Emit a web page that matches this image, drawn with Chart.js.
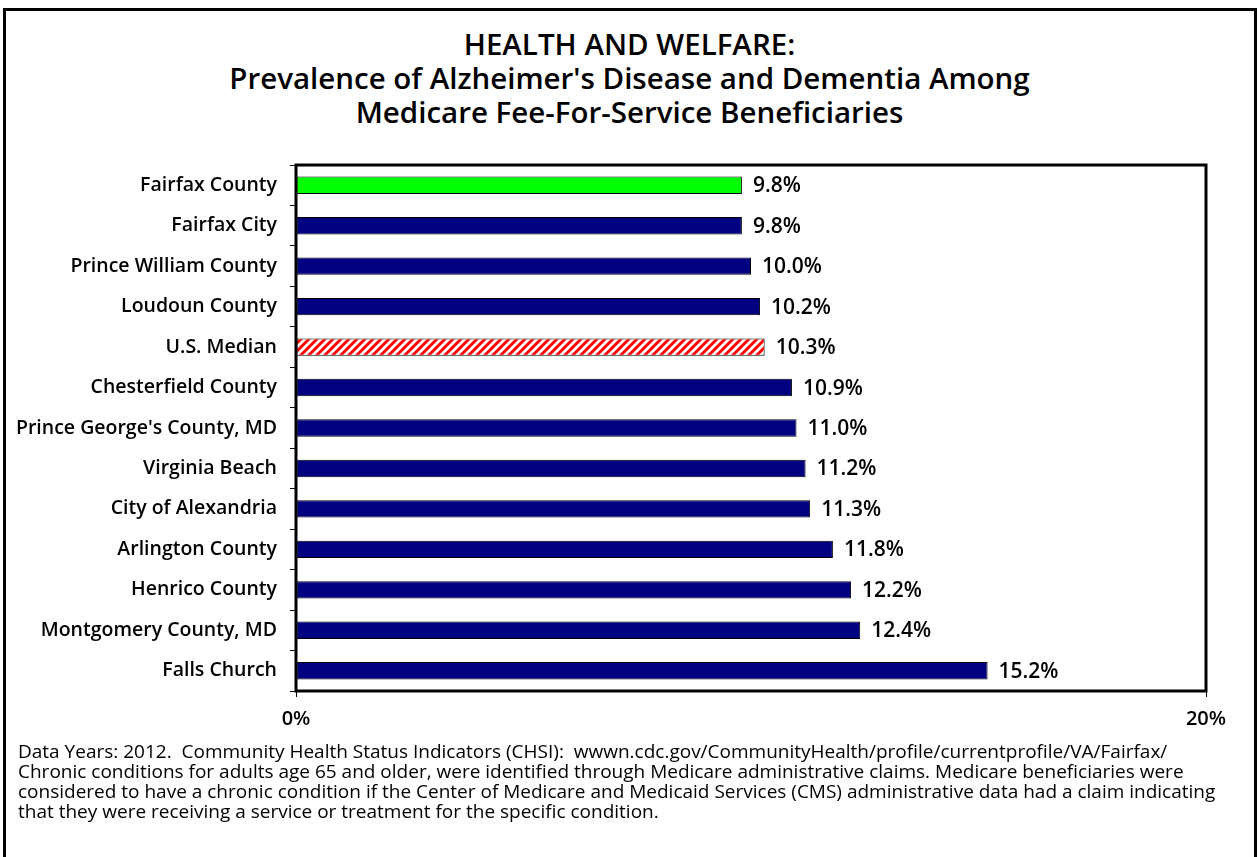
<!DOCTYPE html>
<html>
<head>
<meta charset="utf-8">
<script src="https://cdn.jsdelivr.net/npm/chart.js@4.4.0/dist/chart.umd.min.js"></script>
<style>
  html, body { margin: 0; padding: 0; background: #fff; }
  body { width: 1259px; height: 857px; position: relative; overflow: hidden; }
  .frame {
    position: absolute; left: 3px; top: 8px; width: 1248px; height: 860px;
    border: 3px solid #000;
  }
  .title {
    position: absolute; left: 0; top: 27px; width: 1259px; text-align: center;
    font-family: "Open Sans", sans-serif; font-weight: 600;
    font-size: 29.5px; line-height: 34px; color: #000;
  }
  .note {
    position: absolute; left: 18px; top: 741px; width: 1235px;
    font-family: "Open Sans", sans-serif;
    font-size: 19px; line-height: 20px; color: #000; white-space: nowrap;
  }
  #chart { position: absolute; left: 0; top: 0; }
</style>
</head>
<body>
<div class="frame"></div>
<div class="title">HEALTH AND WELFARE:<br>Prevalence of Alzheimer's Disease and Dementia Among<br>Medicare Fee-For-Service Beneficiaries</div>
<canvas id="chart" width="1259" height="857"></canvas>
<div class="note">Data Years: 2012.&nbsp; Community Health Status Indicators (CHSI):&nbsp; wwwn.cdc.gov/CommunityHealth/profile/currentprofile/VA/Fairfax/<br>Chronic conditions for adults age 65 and older, were identified through Medicare administrative claims. Medicare beneficiaries were<br>considered to have a chronic condition if the Center of Medicare and Medicaid Services (CMS) administrative data had a claim indicating<br>that they were receiving a service or treatment for the specific condition.</div>
<script>
  // 数据
  const places = [
    'Fairfax County', 'Fairfax City', 'Prince William County', 'Loudoun County',
    'U.S. Median', 'Chesterfield County', "Prince George's County, MD", 'Virginia Beach',
    'City of Alexandria', 'Arlington County', 'Henrico County', 'Montgomery County, MD',
    'Falls Church'
  ];
  const prevalence = [9.8, 9.8, 10.0, 10.2, 10.3, 10.9, 11.0, 11.2, 11.3, 11.8, 12.2, 12.4, 15.2];
  const xTicks = [0, 20];

  const labelFont = '"Open Sans", sans-serif';

  // 斜线填充 (U.S. Median)
  function makeHatch() {
    var c = document.createElement('canvas');
    c.width = 8; c.height = 8;
    var g = c.getContext('2d');
    g.fillStyle = '#fff';
    g.fillRect(0, 0, 8, 8);
    g.strokeStyle = '#ff0000';
    g.lineWidth = 3;
    g.beginPath();
    g.moveTo(-2, 10); g.lineTo(10, -2);
    g.moveTo(-6, 6); g.lineTo(6, -6);
    g.moveTo(2, 14); g.lineTo(14, 2);
    g.stroke();
    return g.createPattern(c, 'repeat');
  }
  const hatch = makeHatch();

  const barColors = places.map(function(p) {
    if (p === 'Fairfax County') return '#00ff00';
    if (p === 'U.S. Median') return hatch;
    return '#000080';
  });

  // 外框 + 数值标签
  const boxAndLabels = {
    id: 'boxAndLabels',
    afterDatasetsDraw: function(chart) {
      var ctx = chart.ctx;
      var a = chart.chartArea;
      ctx.save();
      ctx.strokeStyle = '#000';
      ctx.lineWidth = 3;
      ctx.strokeRect(a.left, a.top, a.right - a.left, a.bottom - a.top);
      ctx.fillStyle = '#000';
      ctx.font = '600 21px ' + labelFont;
      ctx.textBaseline = 'middle';
      ctx.textAlign = 'left';
      chart.getDatasetMeta(0).data.forEach(function(bar, i) {
        ctx.fillText(prevalence[i].toFixed(1) + '%', bar.x + 11, bar.y + 1);
      });
      ctx.restore();
    }
  };

  function draw() {
    new Chart(document.getElementById('chart'), {
      type: 'bar',
      data: {
        labels: places,
        datasets: [{
          data: prevalence,
          backgroundColor: barColors,
          borderColor: '#000',
          borderWidth: 1,
          borderSkipped: false,
          barPercentage: 0.43,
          categoryPercentage: 1.0
        }]
      },
      options: {
        indexAxis: 'y',
        responsive: false,
        animation: false,
        layout: { padding: { top: 165, right: 53, left: 0, bottom: 0 } },
        plugins: {
          legend: { display: false },
          tooltip: { enabled: false }
        },
        scales: {
          x: {
            min: 0,
            max: 20,
            afterBuildTicks: function(scale) {
              scale.ticks = xTicks.map(function(v) { return { value: v }; });
            },
            afterFit: function(scale) { scale.height = 857 - 691; },
            grid: { drawOnChartArea: false, drawTicks: true, tickLength: 6, color: '#000' },
            border: { display: false },
            ticks: {
              color: '#000',
              padding: 10,
              font: { family: labelFont, size: 20, weight: '600' },
              callback: function(v) { return v + '%'; }
            }
          },
          y: {
            afterFit: function(scale) { scale.width = 296; },
            grid: { drawOnChartArea: false, drawTicks: true, tickLength: 6, color: '#000', offset: true },
            border: { display: false },
            ticks: {
              color: '#000',
              padding: 13,
              font: { family: labelFont, size: 19.5, weight: '600' }
            }
          }
        }
      },
      plugins: [boxAndLabels]
    });
  }

  if (document.fonts && document.fonts.load) {
    Promise.all([
      document.fonts.load('600 19px "Open Sans"'),
      document.fonts.load('400 18px "Open Sans"')
    ]).then(draw, draw);
  } else {
    draw();
  }
</script>
</body>
</html>
